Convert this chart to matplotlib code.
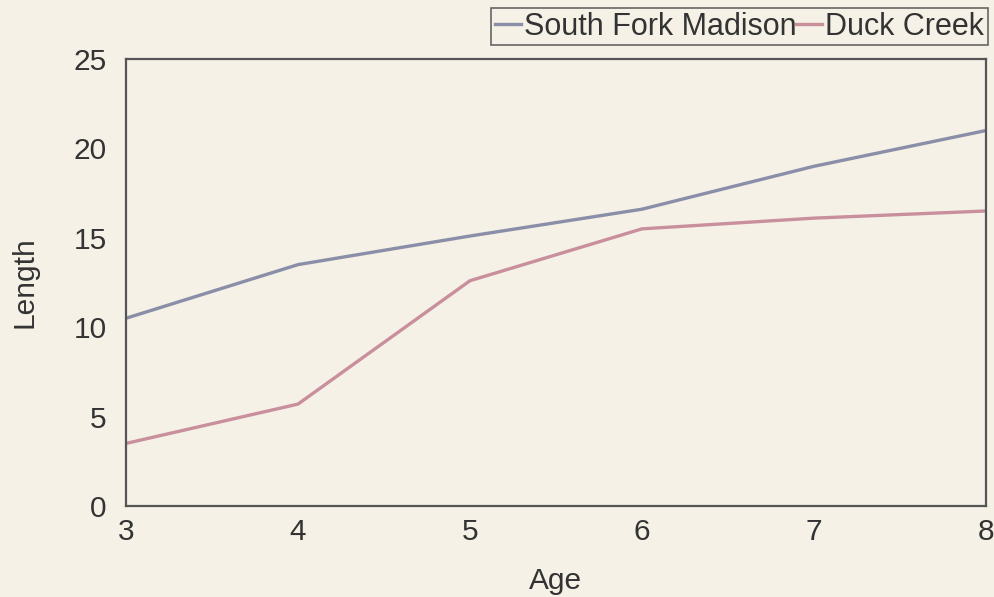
import matplotlib
matplotlib.use("Agg")
import matplotlib.pyplot as plt

ages = [3, 4, 5, 6, 7, 8]
south_fork = [10.5, 13.5, 15.1, 16.6, 19.0, 21.0]
duck_creek = [3.5, 5.7, 12.6, 15.5, 16.1, 16.5]
series_names = ["South Fork Madison", "Duck Creek"]
y_ticks = [0, 5, 10, 15, 20, 25]

bg = "#f5f1e6"
plt.rcParams['font.family'] = ['Liberation Sans', 'DejaVu Sans']

fig = plt.figure(figsize=(9.95, 5.97), dpi=100, facecolor=bg)
ax = fig.add_axes([126 / 995, 1 - 506 / 597, 860 / 995, 447 / 597], facecolor=bg)

ax.plot(ages, south_fork, color="#8a8ea8", lw=2.4, label=series_names[0])
ax.plot(ages, duck_creek, color="#c98f9d", lw=2.4, label=series_names[1])

ax.set_xlim(3, 8)
ax.set_ylim(0, 25)
ax.set_xticks(ages)
ax.set_yticks(y_ticks)
ax.tick_params(length=0, labelsize=21.5, colors="#333333")
ax.tick_params(axis="x", pad=9)
ax.tick_params(axis="y", pad=14)
for s in ax.spines.values():
    s.set_color("#555555")
    s.set_linewidth(1.6)

ax.set_xlabel("Age", fontsize=21.5, color="#333333")
ax.set_ylabel("Length", fontsize=21.5, color="#333333")
ax.xaxis.set_label_coords(0.5, (506 - 581) / 447)
ax.xaxis.label.set_verticalalignment("center")
ax.yaxis.set_label_coords((25 - 126) / 860, 0.5)
ax.yaxis.label.set_verticalalignment("center")

leg = fig.legend(loc="upper right", bbox_to_anchor=(988 / 995, 1 - 8 / 597), ncol=2,
                 fontsize=22, frameon=True, fancybox=False,
                 handlelength=0.85, handletextpad=0.1, columnspacing=0.0,
                 borderpad=0.12, borderaxespad=0)
leg.get_frame().set_edgecolor("#444444")
leg.get_frame().set_facecolor(bg)
leg.get_frame().set_linewidth(1.2)
for t in leg.get_texts():
    t.set_color("#333333")

fig.savefig("out.png", dpi=100, facecolor=bg)
